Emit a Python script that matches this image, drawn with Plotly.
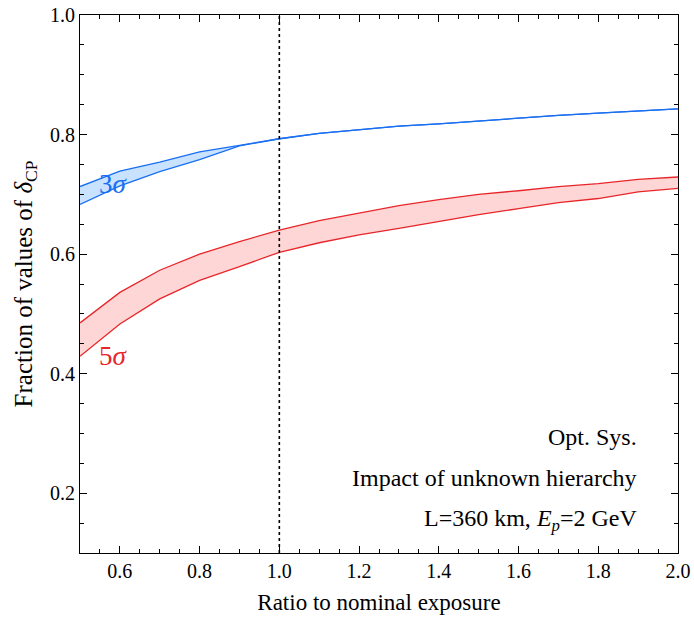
import plotly.graph_objects as go

exposure = [0.5, 0.6, 0.7, 0.8, 0.9, 1.0, 1.1, 1.2, 1.3, 1.4, 1.5, 1.6, 1.7, 1.8, 1.9, 2.0]
sig3_upper = [0.713, 0.739, 0.754, 0.771, 0.782, 0.793, 0.802, 0.808, 0.814, 0.818, 0.823, 0.828, 0.832, 0.836, 0.839, 0.843]
sig3_lower = [0.683, 0.714, 0.738, 0.758, 0.781, 0.793, 0.802, 0.808, 0.814, 0.818, 0.823, 0.828, 0.832, 0.836, 0.839, 0.843]
sig5_upper = [0.485, 0.536, 0.573, 0.600, 0.621, 0.640, 0.656, 0.669, 0.681, 0.691, 0.700, 0.706, 0.713, 0.718, 0.725, 0.729]
sig5_lower = [0.429, 0.483, 0.525, 0.556, 0.579, 0.603, 0.619, 0.632, 0.643, 0.655, 0.666, 0.676, 0.686, 0.693, 0.704, 0.710]

BLUE = "#1a6ff0"
BLUE_FILL = "rgba(200,226,255,1)"
RED = "#e8262a"
RED_FILL = "rgba(255,214,214,1)"
FONT = "Liberation Serif, Times New Roman, serif"

fig = go.Figure()
for lo, hi, lc, fc in [(sig5_lower, sig5_upper, RED, RED_FILL), (sig3_lower, sig3_upper, BLUE, BLUE_FILL)]:
    fig.add_trace(go.Scatter(x=exposure, y=lo, mode="lines", line=dict(color=lc, width=1.3),
                             showlegend=False, hoverinfo="skip"))
    fig.add_trace(go.Scatter(x=exposure, y=hi, mode="lines", line=dict(color=lc, width=1.3),
                             fill="tonexty", fillcolor=fc, showlegend=False, hoverinfo="skip"))

fig.add_shape(type="line", x0=1.0, x1=1.0, y0=0.1, y1=1.0, xref="x", yref="y",
              line=dict(color="black", width=1.6, dash="dot"))

fig.add_annotation(x=0.583, y=0.718, xref="x", yref="y", text="3<i>σ</i>", showarrow=False,
                   font=dict(family=FONT, size=27, color=BLUE))
fig.add_annotation(x=0.583, y=0.430, xref="x", yref="y", text="5<i>σ</i>", showarrow=False,
                   font=dict(family=FONT, size=27, color=RED))

for txt, yy in [("Opt. Sys.", 0.2156), ("Impact of unknown hierarchy", 0.139),
                ("L=360 km, <i>E<sub>p</sub></i>=2 GeV", 0.061)]:
    fig.add_annotation(x=0.935, y=yy, xref="paper", yref="paper", text=txt, showarrow=False,
                       xanchor="right", yanchor="middle", font=dict(family=FONT, size=24, color="black"))

axis_common = dict(showgrid=False, zeroline=False, showline=True, linecolor="black", linewidth=1,
                   mirror="allticks", ticks="inside", ticklen=7, tickcolor="black", automargin=False,
                   tickfont=dict(family=FONT, size=20, color="black"))

fig.update_xaxes(range=[0.5, 2.0], dtick=0.2, tick0=0.4, tickformat=".1f",
                 minor=dict(ticks="inside", dtick=0.05, tick0=0.5, ticklen=4, tickcolor="black"),
                 title=dict(text="Ratio to nominal exposure", font=dict(family=FONT, size=23, color="black"), standoff=12),
                 **axis_common)
fig.update_yaxes(range=[0.1, 1.0], dtick=0.2, tick0=0.2, tickformat=".1f",
                 minor=dict(ticks="inside", dtick=0.05, tick0=0.1, ticklen=4, tickcolor="black"),
                 title=dict(text="Fraction of values of <i>δ</i><sub>CP</sub>", font=dict(family=FONT, size=25, color="black"), standoff=10),
                 **axis_common)

fig.update_layout(width=694, height=628, margin=dict(l=80, r=16, t=15, b=75),
                  plot_bgcolor="white", paper_bgcolor="white", font=dict(family=FONT))

fig.write_html("out.html")
